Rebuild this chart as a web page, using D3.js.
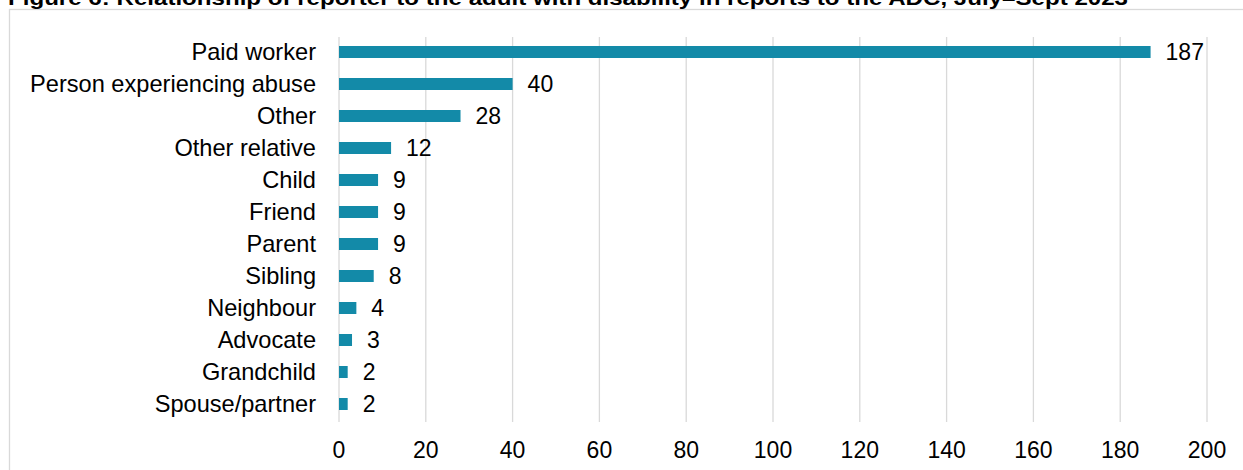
<!DOCTYPE html>
<html>
<head>
<meta charset="utf-8">
<script src="https://cdn.jsdelivr.net/npm/d3@7"></script>
<style>
  body { margin: 0; background: #fff; overflow: hidden; }
  svg { display: block; font-family: "Liberation Sans", Arial, sans-serif; }
</style>
</head>
<body>
<div class="container"></div>
<script>
const categories = ['Paid worker', 'Person experiencing abuse', 'Other', 'Other relative', 'Child', 'Friend',
                    'Parent', 'Sibling', 'Neighbour', 'Advocate', 'Grandchild', 'Spouse/partner'];
const values = [187, 40, 28, 12, 9, 9, 9, 8, 4, 3, 2, 2];
const xTicks = [0, 20, 40, 60, 80, 100, 120, 140, 160, 180, 200];
const title = 'Figure 6: Relationship of reporter to the adult with disability in reports to the ADC, July\u2013Sept 2023';

const width = 1243;
const height = 470;

const svg = d3.select('.container')
                .append('svg')
                .attr('width', width)
                .attr('height', height);

// chart frame (runs off the right and bottom like the source crop)
svg.append('rect')
    .attr('x', 9.5)
    .attr('y', 9.5)
    .attr('width', 1400)
    .attr('height', 600)
    .attr('fill', 'none')
    .attr('stroke', '#d9d9d9')
    .attr('stroke-width', 1.3);

svg.append('text')
    .attr('x', 8)
    .attr('y', 5)
    .attr('font-size', 20)
    .attr('font-weight', 'bold')
    .attr('textLength', 1120)
    .attr('lengthAdjust', 'spacingAndGlyphs')
    .attr('fill', '#000')
    .text(title);

const x = d3.scaleLinear()
            .domain([0, 200])
            .range([339, 1207]);

const y = d3.scaleBand()
            .domain(categories)
            .range([36, 420])
            .paddingInner(0.625)
            .paddingOuter(0.3125);

// gridlines
svg.append('g')
    .selectAll('line')
    .data(xTicks)
    .enter()
    .append('line')
    .attr('x1', d => x(d))
    .attr('x2', d => x(d))
    .attr('y1', 37)
    .attr('y2', 422)
    .attr('stroke', '#d9d9d9')
    .attr('stroke-width', 1.3);

// x tick labels
svg.append('g')
    .selectAll('text')
    .data(xTicks)
    .enter()
    .append('text')
    .attr('x', d => x(d))
    .attr('y', 458)
    .attr('text-anchor', 'middle')
    .attr('font-size', 23)
    .attr('fill', '#000')
    .text(d => d);

// category labels
svg.append('g')
    .selectAll('text')
    .data(categories)
    .enter()
    .append('text')
    .attr('x', 316)
    .attr('y', d => y(d) + y.bandwidth() / 2)
    .attr('dy', '0.36em')
    .attr('text-anchor', 'end')
    .attr('font-size', 23.6)
    .attr('fill', '#000')
    .text(d => d);

// bars
svg.append('g')
    .selectAll('rect')
    .data(values)
    .enter()
    .append('rect')
    .attr('x', x(0))
    .attr('y', (d, i) => y(categories[i]))
    .attr('width', d => x(d) - x(0))
    .attr('height', y.bandwidth())
    .attr('fill', '#138aa8');

// value labels
svg.append('g')
    .selectAll('text')
    .data(values)
    .enter()
    .append('text')
    .attr('x', d => x(d) + 15)
    .attr('y', (d, i) => y(categories[i]) + y.bandwidth() / 2)
    .attr('dy', '0.36em')
    .attr('font-size', 23)
    .attr('fill', '#000')
    .text(d => d);
</script>
</body>
</html>
